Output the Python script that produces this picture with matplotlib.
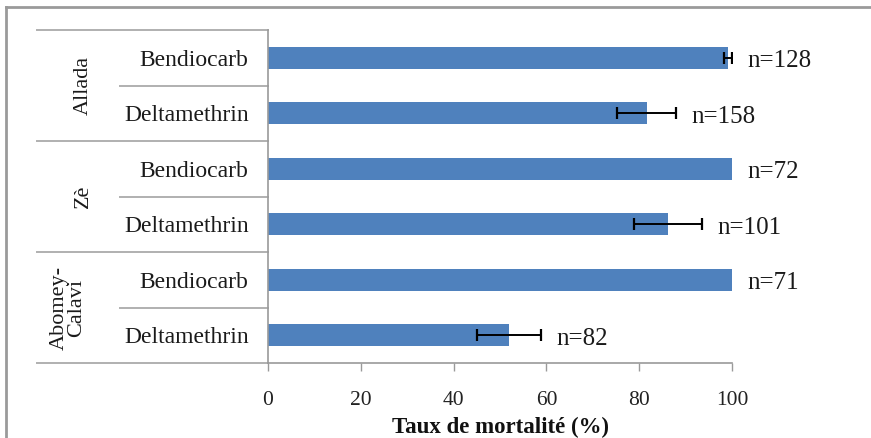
import matplotlib
matplotlib.use("Agg")
import matplotlib.pyplot as plt
import matplotlib.transforms as mtransforms
from matplotlib.lines import Line2D

plt.rcParams['font.family'] = ['Liberation Serif', 'DejaVu Serif']

groups = ["Allada", "Zè", "Abomey-\nCalavi"]
insecticides = ["Bendiocarb", "Deltamethrin"]
# top-to-bottom order
categories = ["Bendiocarb", "Deltamethrin", "Bendiocarb", "Deltamethrin", "Bendiocarb", "Deltamethrin"]
mortality = [99.2, 81.6, 100.0, 86.2, 100.0, 52.0]
errors = [0.9, 6.4, 0.0, 7.4, 0.0, 6.9]
n_labels = ["n=128", "n=158", "n=72", "n=101", "n=71", "n=82"]
xticks = [0, 20, 40, 60, 80, 100]

W, H = 871, 438
fig = plt.figure(figsize=(W / 100, H / 100), dpi=100)

left, right, top, bottom = 268, 732, 30, 363
ax = fig.add_axes([left / W, 1 - bottom / H, (right - left) / W, (bottom - top) / H])

ncat = len(categories)
ypos = [ncat - 1 - i for i in range(ncat)]
bar_color = "#4F81BD"
ax.barh(ypos, mortality, height=0.4, color=bar_color, zorder=2)

eb = [(v, y, e) for v, y, e in zip(mortality, ypos, errors) if e > 0]
ax.errorbar([t[0] for t in eb], [t[1] for t in eb], xerr=[t[2] for t in eb],
            fmt="none", ecolor="black", elinewidth=1.4, capsize=4, capthick=1.6, zorder=3)

for y, v, e, lab in zip(ypos, mortality, errors, n_labels):
    ax.annotate(lab, xy=(v + e, y), xytext=(11, -2.5), textcoords="offset points",
                ha="left", va="center", fontsize=18, color="#1a1a1a")

ax.set_xlim(0, 100)
ax.set_ylim(-0.5, ncat - 0.5)
ax.set_xticks(xticks)
ax.set_xticklabels([str(t) for t in xticks], fontsize=15.5, color="#222222")
ax.tick_params(axis="x", direction="out", length=6, width=1, color="#9a9a9a", pad=14)
ax.set_yticks(ypos)
ax.set_yticklabels(categories, fontsize=17, color="#1a1a1a")
ax.tick_params(axis="y", length=0, pad=14)

for s in ["top", "right"]:
    ax.spines[s].set_visible(False)
for s in ["left", "bottom"]:
    ax.spines[s].set_color("#9a9a9a")
    ax.spines[s].set_linewidth(1.2)

ax.set_xlabel("Taux de mortalité (%)", fontsize=16.5, fontweight="bold", labelpad=5, color="#111111")

# category separators in the label area
trans = mtransforms.blended_transform_factory(ax.transAxes, ax.transData)
short_x = (120 - left) / (right - left)
long_x = (37 - left) / (right - left)
for k in range(ncat + 1):
    yb = k - 0.5
    xs = long_x if k % 2 == 0 else short_x
    ax.add_line(Line2D([xs, 0], [yb, yb], transform=trans, color="#b0b0b0",
                       linewidth=1.4, clip_on=False))

# group labels
gx = [(83 - left) / (right - left), (83 - left) / (right - left), (68 - left) / (right - left)]
for gi, g in enumerate(groups):
    yc = ncat - 1 - (2 * gi + 0.5)
    ax.text(gx[gi], yc, g, transform=trans, rotation=90, ha="center", va="center",
            fontsize=16, multialignment="center", linespacing=0.9, color="#1a1a1a")

# outer frame
fig.add_artist(Line2D([6 / W, 6 / W], [1 - 7 / H, -0.05], transform=fig.transFigure,
                      color="#9a9a9a", linewidth=2))
fig.add_artist(Line2D([6 / W, 1.01], [1 - 7 / H, 1 - 7 / H], transform=fig.transFigure,
                      color="#9a9a9a", linewidth=2))

fig.savefig("out.png", dpi=100)
